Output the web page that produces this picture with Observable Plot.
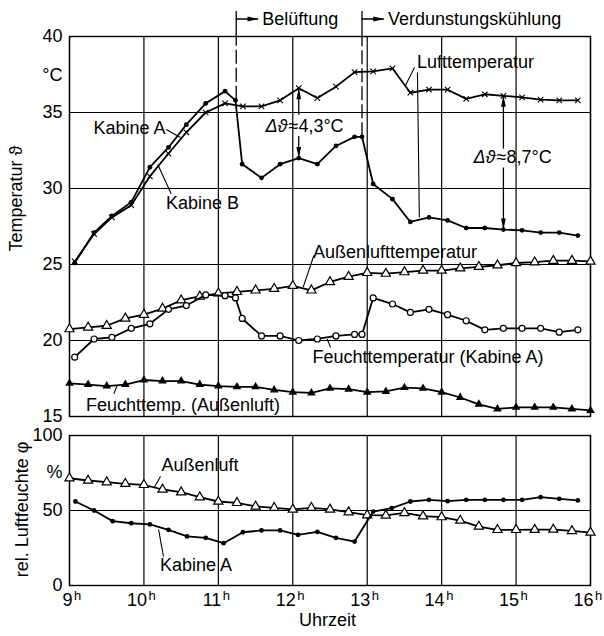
<!DOCTYPE html>
<html><head><meta charset="utf-8">
<script src="https://cdn.jsdelivr.net/npm/d3@7"></script>
<script src="https://cdn.jsdelivr.net/npm/@observablehq/plot@0.6"></script>
<style>
body{margin:0;background:#fff}
#chart svg{display:block;overflow:visible}
</style>
</head><body><div id="chart"></div>
<script>
// ---------- data ----------
const hours = [9, 10, 11, 12, 13, 14, 15, 16];
const hourLabels = ["9", "10", "11", "12", "13", "14", "15", "16"];
const hourSuffix = "h";
const tempTicks = [15, 20, 25, 30, 35, 40];
const humTicks = [0, 50, 100];

// quarter-hour readings (outside air)
const timeQ = [9.0, 9.25, 9.5, 9.75, 10.0, 10.25, 10.5, 10.75, 11.0, 11.25, 11.5, 11.75, 12.0, 12.25, 12.5,
  12.75, 13.0, 13.25, 13.5, 13.75, 14.0, 14.25, 14.5, 14.75, 15.0, 15.25, 15.5, 15.75, 16.0];
// cabin readings
const timeA = [9.07, 9.33, 9.57, 9.83, 10.08, 10.33, 10.57, 10.83, 11.09, 11.23, 11.32, 11.58, 11.83, 12.08, 12.33,
  12.58, 12.83, 12.93, 13.08, 13.34, 13.58, 13.83, 14.08, 14.33, 14.58, 14.83, 15.08, 15.33, 15.58, 15.83];
const timeB = [9.07, 9.33, 9.57, 9.83, 10.08, 10.33, 10.57, 10.83, 11.09, 11.33, 11.58, 11.83, 12.08, 12.33,
  12.58, 12.83, 13.08, 13.34, 13.58, 13.83, 14.08, 14.33, 14.58, 14.83, 15.08, 15.33, 15.58, 15.83];
const timeHumA = [9.08, 9.33, 9.58, 9.83, 10.08, 10.33, 10.58, 10.83, 11.07, 11.33, 11.58, 11.83, 12.07, 12.33,
  12.58, 12.83, 13.08, 13.33, 13.58, 13.83, 14.08, 14.33, 14.58, 14.83, 15.08, 15.33, 15.58, 15.83];

const lufttempA = [25.1, 27.1, 28.2, 29.1, 31.4, 32.7, 34.2, 35.6, 36.4, 35.8, 31.6, 30.7, 31.6, 32.0, 31.6,
  32.8, 33.4, 33.4, 30.3, 29.3, 27.8, 28.1, 27.9, 27.4, 27.4, 27.3, 27.25, 27.1, 27.1, 26.9];
const lufttempB = [25.2, 27.0, 28.1, 28.9, 30.8, 32.3, 33.7, 35.0, 35.6, 35.4, 35.4, 35.8, 36.6, 35.95,
  36.7, 37.65, 37.7, 37.9, 36.3, 36.5, 36.5, 35.9, 36.2, 36.1, 36.0, 35.85, 35.8, 35.8];
const aussenTemp = [20.75, 20.86, 20.97, 21.45, 21.7, 22.1, 22.65, 22.9, 23.1, 23.2, 23.3, 23.4, 23.6, 23.3, 23.85,
  24.2, 24.45, 24.4, 24.5, 24.6, 24.6, 24.75, 24.85, 24.95, 25.1, 25.15, 25.25, 25.25, 25.2];
const feuchtA = [18.9, 20.1, 20.2, 20.8, 21.1, 22.05, 22.3, 23.0, 22.95, 22.8, 21.45, 20.3, 20.3, 20.0, 20.1,
  20.3, 20.4, 20.4, 22.8, 22.4, 21.85, 22.05, 21.7, 21.3, 20.7, 20.8, 20.8, 20.8, 20.55, 20.7];
const feuchtAussen = [17.18, 17.1, 17.0, 17.1, 17.4, 17.33, 17.33, 17.1, 17.0, 16.95, 16.95, 16.75, 16.6, 16.55, 16.85,
  16.8, 16.6, 16.65, 16.9, 16.85, 16.6, 16.25, 15.8, 15.5, 15.6, 15.6, 15.6, 15.5, 15.4];
const humAussen = [71.5, 70, 68.9, 67.8, 67.1, 64, 62.2, 58.9, 56, 55.1, 52.7, 51.8, 50.7, 51.8, 50.7,
  48.9, 46.9, 46.7, 48.4, 46.2, 45.6, 43.3, 39.3, 37.1, 37.1, 37.2, 37.3, 36.4, 35.3];
const humKabineA = [56, 50, 42.9, 41.5, 40.7, 37.1, 32.7, 31.8, 28.2, 35.5, 36.7, 36.7, 33.8, 35.8,
  31.8, 29.3, 49.3, 51.6, 56, 57.1, 56.2, 57.1, 57.1, 57.1, 57.1, 58.9, 57.8, 56.7];

// phase markers (start of ventilation / evaporative cooling) and delta readings
const phaseTimes = [11.24, 12.93];
const phaseNames = ["Belüftung", "Verdunstungskühlung"];
const phaseStartTemp = [35.8, 33.4];
const deltaTimes = [12.08, 14.83];
const deltaSymbol = "Δϑ";
const deltaValues = ["≈4,3°C", "≈8,7°C"];

// ---------- helpers ----------
const zip = (xs, ys) => xs.map((x, i) => ({x, y: ys[i]}));
const font = "'Liberation Sans', Arial, sans-serif";
const FS = 18;
const LW = 1.8;
const gridStyle = {stroke: "black", strokeOpacity: 1, strokeWidth: 1.2};
const arrowHead = {draw(ctx) { const L = 11, w = 2.4; ctx.moveTo(0, 0); ctx.lineTo(w, L); ctx.lineTo(-w, L); ctx.closePath(); }};

// annotation placement (data units)
const topLabels = [
  {x: 9.805, y: 33.95, t: "Kabine A"},
  {x: 10.787, y: 29.0, t: "Kabine B"},
  {x: 14.455, y: 38.29, t: "Lufttemperatur"},
  {x: 13.373, y: 25.79, t: "Außenlufttemperatur"},
  {x: 13.817, y: 18.88, t: "Feuchttemperatur (Kabine A)"},
  {x: 10.525, y: 15.72, t: "Feuchttemp. (Außenluft)"}
];
const topLeaders = [
  {x1: 10.30, y1: 33.88, x2: 10.49, y2: 33.36},
  {x1: 10.366, y1: 29.65, x2: 10.186, y2: 31.58},
  {x1: 13.635, y1: 37.96, x2: 13.514, y2: 36.78},
  {x1: 13.675, y1: 37.63, x2: 13.70, y2: 28.1},
  {x1: 12.283, y1: 25.59, x2: 12.14, y2: 23.51},
  {x1: 12.462, y1: 20.11, x2: 12.507, y2: 19.55},
  {x1: 9.641, y1: 17.04, x2: 9.595, y2: 16.49}
];
const deltaText = [{x: 11.929, y: 34.1}, {x: 14.724, y: 32.06}];
const deltaUp = [{x: 12.08, y1: 34.85, y2: 36.6}, {x: 14.83, y1: 32.63, y2: 36.1}];
const deltaDown = [{x: 12.08, y1: 33.45, y2: 32.0}, {x: 14.83, y1: 31.38, y2: 27.3}];

// ---------- top panel: temperatures ----------
const topPlot = Plot.plot({
  width: 604, height: 425,
  marginLeft: 69, marginRight: 14, marginTop: 36, marginBottom: 9,
  style: {fontFamily: font, fontSize: FS + "px", background: "white", color: "black"},
  x: {domain: [9, 16], axis: null},
  y: {domain: [15, 40], axis: null},
  marks: [
    Plot.gridX(hours, gridStyle),
    Plot.gridY(tempTicks, gridStyle),
    Plot.frame({stroke: "black", strokeWidth: 1.4}),
    Plot.axisY(tempTicks, {anchor: "left", tickSize: 0, tickPadding: 7, fontSize: FS, label: null, fill: "black"}),
    Plot.text(["°C"], {frameAnchor: "left", y: [37.43], dx: -7, textAnchor: "end", fontSize: FS, fill: "black"}),
    Plot.text(["Temperatur ϑ"], {frameAnchor: "left", y: [29.34], dx: -53, rotate: -90, textAnchor: "middle", fontSize: FS, fill: "black"}),

    // phase markers
    Plot.ruleX(phaseTimes, {x: d => d, y1: 40, y2: 41.65, stroke: "black", strokeWidth: 1.3}),
    Plot.ruleX(phaseTimes, {x: d => d, y1: (d, i) => phaseStartTemp[i], y2: 40, stroke: "black", strokeWidth: 1.3, strokeDasharray: "14,4"}),
    Plot.ruleY(phaseTimes, {y: 41.15, x1: d => d, x2: d => d + 0.3, stroke: "black", strokeWidth: 1.5}),
    Plot.dot(phaseTimes, {x: d => d + 0.3, y: 41.15, symbol: arrowHead, rotate: 90, fill: "black", stroke: "none"}),
    Plot.text(phaseNames, {x: (d, i) => phaseTimes[i] + 0.35, y: 41.15, text: d => d, textAnchor: "start", fontSize: FS, fill: "black"}),

    // curves
    Plot.line(zip(timeQ, feuchtAussen), {x: "x", y: "y", stroke: "black", strokeWidth: LW}),
    Plot.dot(zip(timeQ, feuchtAussen), {x: "x", y: "y", symbol: "triangle", r: 3.2, fill: "black", stroke: "none"}),
    Plot.line(zip(timeQ, aussenTemp), {x: "x", y: "y", stroke: "black", strokeWidth: LW}),
    Plot.dot(zip(timeQ, aussenTemp), {x: "x", y: "y", symbol: "triangle", r: 3.4, fill: "white", stroke: "black", strokeWidth: 1.2}),
    Plot.line(zip(timeA, feuchtA), {x: "x", y: "y", stroke: "black", strokeWidth: LW}),
    Plot.dot(zip(timeA, feuchtA), {x: "x", y: "y", r: 3, fill: "white", stroke: "black", strokeWidth: 1.2}),
    Plot.line(zip(timeB, lufttempB), {x: "x", y: "y", stroke: "black", strokeWidth: LW}),
    Plot.dot(zip(timeB, lufttempB), {x: "x", y: "y", symbol: "times", r: 2.6, stroke: "black", strokeWidth: 1.1}),
    Plot.line(zip(timeA, lufttempA), {x: "x", y: "y", stroke: "black", strokeWidth: LW}),
    Plot.dot(zip(timeA, lufttempA), {x: "x", y: "y", r: 2.4, fill: "black", stroke: "none"}),

    // delta arrows
    Plot.link(deltaUp, {x1: "x", x2: "x", y1: "y1", y2: "y2", stroke: "black", strokeWidth: 1.3}),
    Plot.link(deltaDown, {x1: "x", x2: "x", y1: "y1", y2: "y2", stroke: "black", strokeWidth: 1.3}),
    Plot.dot(deltaUp, {x: "x", y: "y2", symbol: arrowHead, rotate: 0, fill: "black", stroke: "none"}),
    Plot.dot(deltaDown, {x: "x", y: "y2", symbol: arrowHead, rotate: 180, fill: "black", stroke: "none"}),
    Plot.text(deltaText, {x: "x", y: "y", text: () => deltaSymbol, textAnchor: "end", fontStyle: "italic", fontSize: FS, fill: "black"}),
    Plot.text(deltaText, {x: "x", y: "y", text: (d, i) => deltaValues[i], textAnchor: "start", dx: 1, fontSize: FS, fill: "black"}),

    // labels
    Plot.link(topLeaders, {x1: "x1", y1: "y1", x2: "x2", y2: "y2", stroke: "black", strokeWidth: 1.1}),
    Plot.text(topLabels, {x: "x", y: "y", text: "t", fontSize: FS, fill: "black"})
  ]
});

// ---------- bottom panel: relative humidity ----------
const botLabels = [
  {x: 10.753, y: 80, t: "Außenluft"},
  {x: 10.70, y: 13.3, t: "Kabine A"}
];
const botLeaders = [
  {x1: 10.223, y1: 72.7, x2: 10.142, y2: 65.6},
  {x1: 10.263, y1: 19.3, x2: 10.196, y2: 37.5}
];
const botPlot = Plot.plot({
  width: 604, height: 211,
  marginLeft: 69, marginRight: 14, marginTop: 10, marginBottom: 51,
  style: {fontFamily: font, fontSize: FS + "px", background: "white", color: "black"},
  x: {domain: [9, 16], axis: null},
  y: {domain: [0, 100], axis: null},
  marks: [
    Plot.gridX(hours, gridStyle),
    Plot.gridY([50], gridStyle),
    Plot.frame({stroke: "black", strokeWidth: 1.4}),
    Plot.axisY(humTicks, {anchor: "left", tickSize: 0, tickPadding: 7, fontSize: FS, label: null, fill: "black"}),
    // hour tick labels with superscript h
    Plot.text(hours, {x: d => d, frameAnchor: "bottom", text: (d, i) => hourLabels[i], textAnchor: "end", lineAnchor: "top", dx: 3, dy: 8, fontSize: FS, fill: "black"}),
    Plot.text(hours, {x: d => d, frameAnchor: "bottom", text: () => hourSuffix, textAnchor: "start", lineAnchor: "top", dx: 4.5, dy: 5, fontSize: 13, fill: "black"}),
    Plot.text(["%"], {frameAnchor: "left", y: [75.3], dx: -7, textAnchor: "end", fontSize: FS, fill: "black"}),
    Plot.text(["rel. Luftfeuchte φ"], {frameAnchor: "left", y: [50.7], dx: -47, rotate: -90, textAnchor: "middle", fontSize: FS, fill: "black"}),
    Plot.text(["Uhrzeit"], {frameAnchor: "bottom", x: [12.466], dy: 40, fontSize: FS, fill: "black"}),

    Plot.line(zip(timeQ, humAussen), {x: "x", y: "y", stroke: "black", strokeWidth: LW}),
    Plot.dot(zip(timeQ, humAussen), {x: "x", y: "y", symbol: "triangle", r: 3.4, fill: "white", stroke: "black", strokeWidth: 1.2}),
    Plot.line(zip(timeHumA, humKabineA), {x: "x", y: "y", stroke: "black", strokeWidth: LW}),
    Plot.dot(zip(timeHumA, humKabineA), {x: "x", y: "y", r: 2.4, fill: "black", stroke: "none"}),

    Plot.link(botLeaders, {x1: "x1", y1: "y1", x2: "x2", y2: "y2", stroke: "black", strokeWidth: 1.1}),
    Plot.text(botLabels, {x: "x", y: "y", text: "t", fontSize: FS, fill: "black"})
  ]
});

const chart = document.getElementById("chart");
chart.appendChild(topPlot);
chart.appendChild(botPlot);
</script>
</body></html>
